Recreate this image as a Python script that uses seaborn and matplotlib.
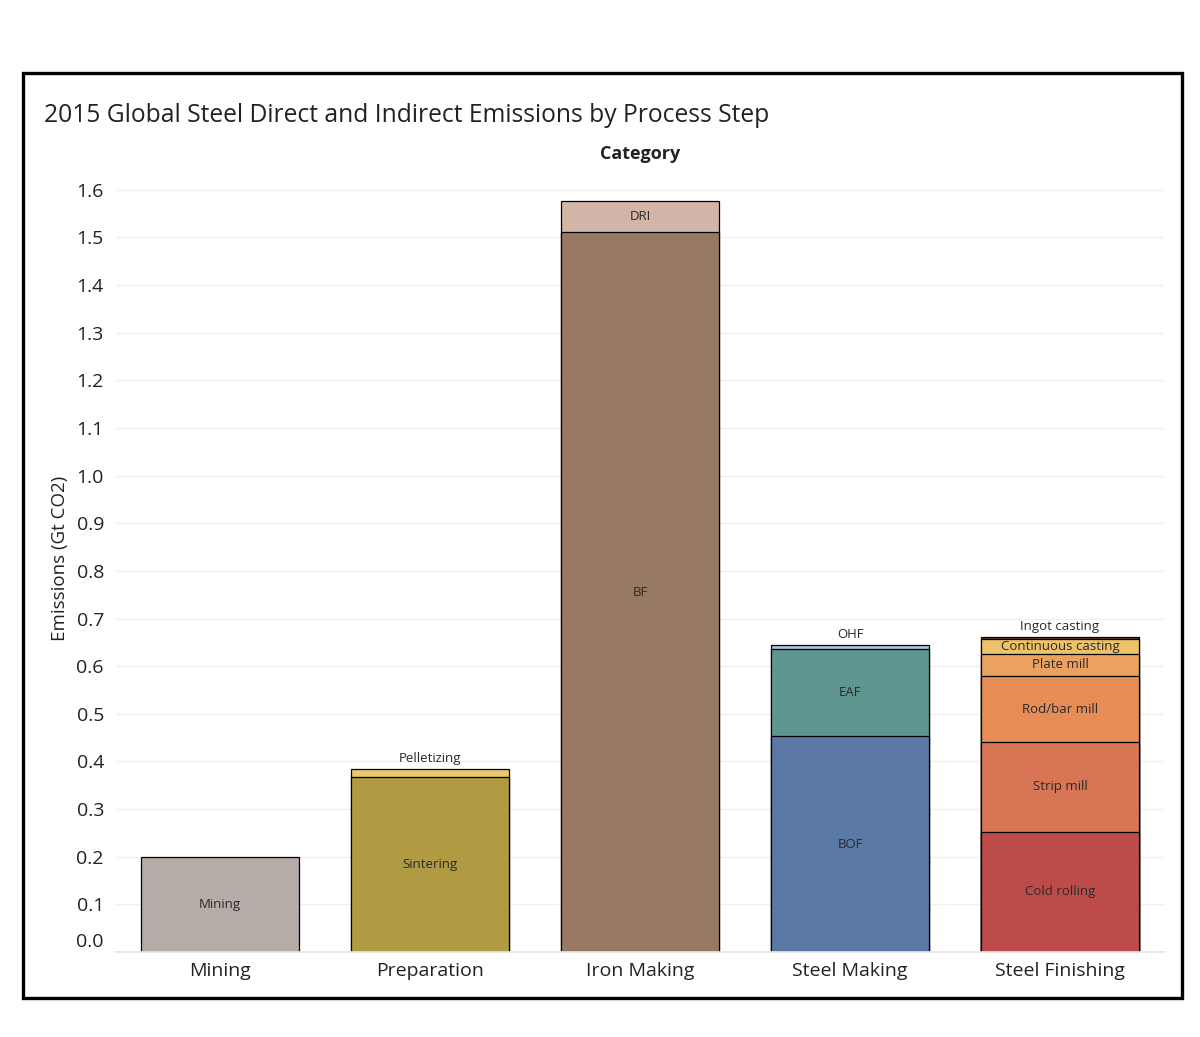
import matplotlib.pyplot as plt
import matplotlib.transforms as mtransforms
from matplotlib.patches import Rectangle
import numpy as np
import seaborn as sns
import pandas as pd

sns.set_theme(style='white')
plt.rcParams['font.family'] = ['Open Sans', 'DejaVu Sans']

steps = ['Mining', 'Preparation', 'Iron Making', 'Steel Making', 'Steel Finishing']
# segments of each step, listed from the bottom of the stack up
segments = {
    'Mining': ['Mining'],
    'Preparation': ['Sintering', 'Pelletizing'],
    'Iron Making': ['BF', 'DRI'],
    'Steel Making': ['BOF', 'EAF', 'OHF'],
    'Steel Finishing': ['Cold rolling', 'Strip mill', 'Rod/bar mill', 'Plate mill',
                        'Continuous casting', 'Ingot casting'],
}
values = {
    'Mining': [0.200],
    'Preparation': [0.367, 0.017],
    'Iron Making': [1.511, 0.065],
    'Steel Making': [0.453, 0.183, 0.008],
    'Steel Finishing': [0.252, 0.189, 0.138, 0.047, 0.031, 0.004],
}
colors = {
    'Mining': '#b5aca7',
    'Sintering': '#b09a42', 'Pelletizing': '#e9c86d',
    'BF': '#977863', 'DRI': '#d2b5a6',
    'BOF': '#5b79a5', 'EAF': '#5f968f', 'OHF': '#a9c2dd',
    'Cold rolling': '#bd4b49', 'Strip mill': '#d87555', 'Rod/bar mill': '#e68d55',
    'Plate mill': '#eba25f', 'Continuous casting': '#eec26b', 'Ingot casting': '#6b4a2a',
}

rows = []
for s in steps:
    cum = 0
    for seg, v in zip(segments[s], values[s]):
        rows.append({'step': s, 'segment': seg, 'value': v, 'bottom': cum, 'cum': cum + v})
        cum += v
df = pd.DataFrame(rows)

fig = plt.figure(figsize=(12, 10.37), dpi=100)
ax = fig.add_axes([115/1200, 1 - 952/1037, 1050/1200, 787/1037])

# draw cumulative heights tallest first so each stack shows its segments
hue_order = df.sort_values('cum', ascending=False)['segment'].tolist()
sns.barplot(data=df, x='step', y='cum', hue='segment', hue_order=hue_order,
            order=steps, palette=colors, dodge=False, width=0.75, saturation=1,
            edgecolor='black', linewidth=0.9, legend=False, ax=ax)

pos = {s: i for i, s in enumerate(steps)}
for _, r in df.iterrows():
    x = pos[r['step']]
    if r['value'] < 0.02:
        ax.annotate(r['segment'], (x, r['cum']), xytext=(0, 3), textcoords='offset points',
                    ha='center', va='bottom', fontsize=9.5, color='#2a2a2a')
    else:
        ax.text(x, r['bottom'] + r['value']/2, r['segment'], ha='center', va='center',
                fontsize=9.5, color='#2a2a2a')

ax.set_xlim(-0.5, 4.5)
ax.set_ylim(0, 1.652)
ax.set_yticks(np.arange(0, 1.65, 0.1))
ax.set_yticklabels([f'{t:.1f}' for t in np.arange(0, 1.65, 0.1)])
ax.yaxis.grid(True, color='#f0f0f0', linewidth=1)
ax.set_axisbelow(True)
for sp in ['top', 'right', 'left']:
    ax.spines[sp].set_visible(False)
ax.spines['bottom'].set_color('#e6e6e6')
ax.tick_params(axis='both', length=0, labelsize=14, colors='#222222')
ax.tick_params(axis='x', pad=7)
ax.tick_params(axis='y', pad=8)
# zero label sits a little higher, as in the original
lab0 = ax.get_yticklabels()[0]
lab0.set_transform(lab0.get_transform() + mtransforms.ScaledTranslation(0, 0.12, fig.dpi_scale_trans))

ax.set_xlabel('')
ax.set_ylabel('Emissions (Gt CO2)', fontsize=13.5, color='#222222', labelpad=5)
ax.set_title('Category', fontsize=13, fontweight='bold', color='#222222', pad=4)

fig.text(44/1200, 1 - 115/1037, '2015 Global Steel Direct and Indirect Emissions by Process Step',
         fontsize=17.7, color='#222222', ha='left', va='center')

fig.patches.append(Rectangle((23/1200, 1 - 998/1037), 1159/1200, 925/1037,
                             transform=fig.transFigure, fill=False,
                             edgecolor='black', linewidth=2.4))

fig.savefig('out.png', dpi=100)
